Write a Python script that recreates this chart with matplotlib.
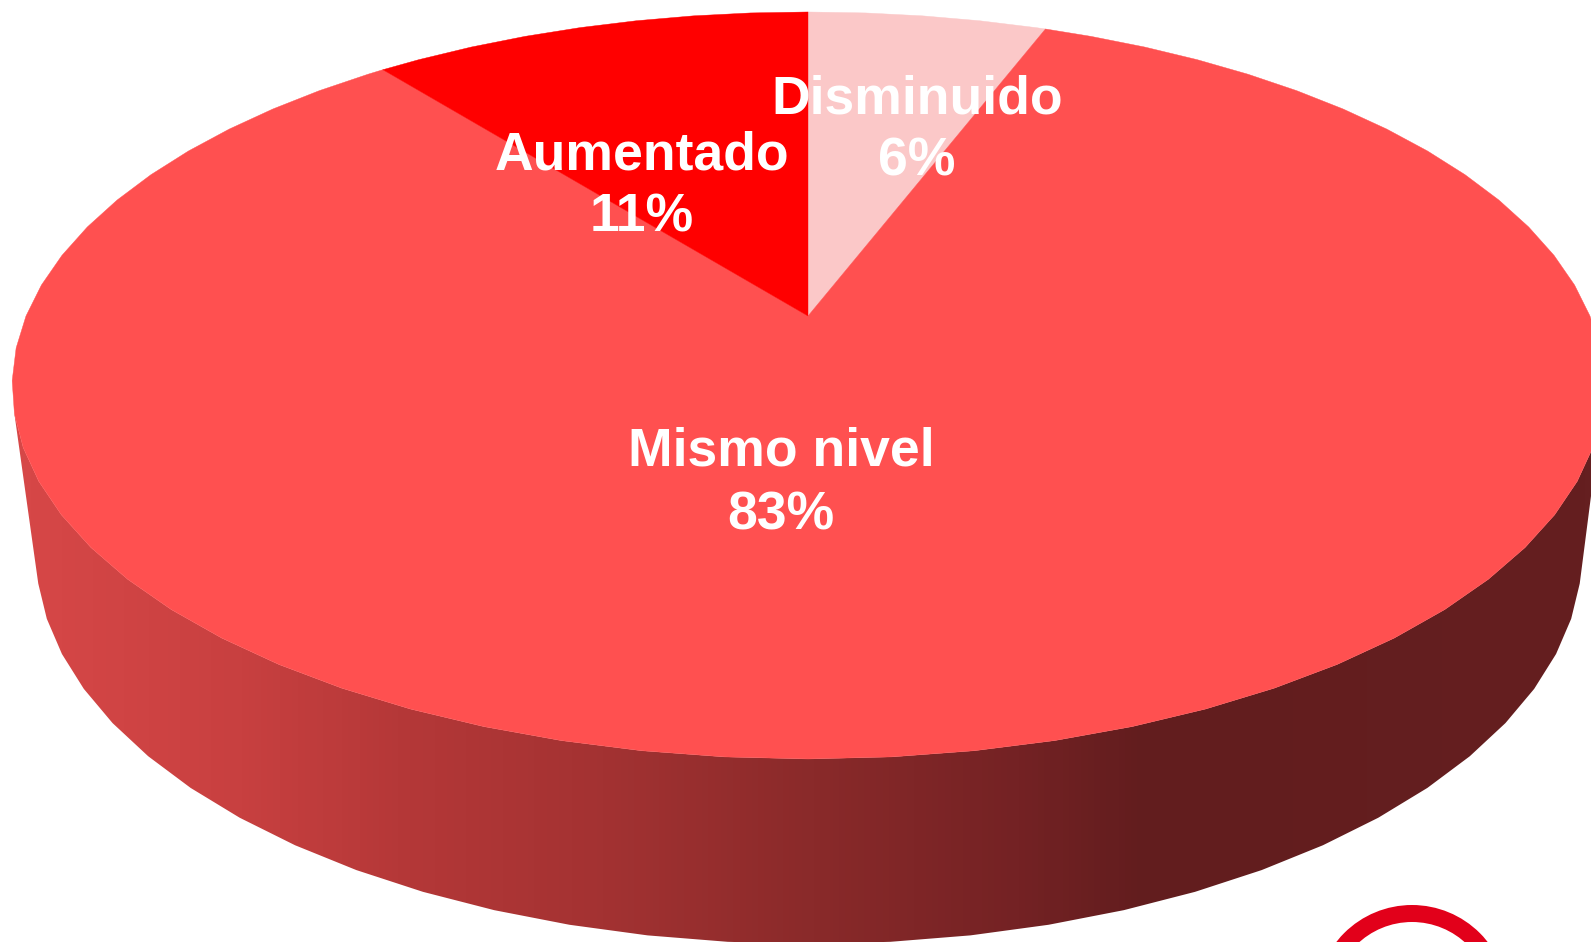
import numpy as np
import matplotlib
matplotlib.use('Agg')
import matplotlib.pyplot as plt
from matplotlib.colors import LinearSegmentedColormap
from matplotlib.patches import Polygon, Wedge

# slices clockwise from the top of the pie
nombres = ['Disminuido', 'Mismo nivel', 'Aumentado']
valores = [5.8, 83.5, 10.7]
etiquetas = ['6%', '83%', '11%']
colores = ['#FBC8C8', '#FF5050', '#FF0000']

# label positions in pixels (x centre, baseline name, baseline percent)
pos_x = [917, 781, 642]
pos_nombre = [114, 466, 170]
pos_pct = [176, 529, 232]

plt.rcParams['font.family'] = ['Liberation Sans']

W, H = 1591, 942
fig = plt.figure(figsize=(W / 100, H / 100), dpi=100)
ax = fig.add_axes([0, 0, 1, 1])
ax.set_xlim(0, W)
ax.set_ylim(H, 0)
ax.axis('off')


# perspective view of a circle, angle in degrees clockwise from the back
def disco(ang, cx, r, a, b, c=0.186):
    t = np.radians(ang)
    d = 1 + c * np.cos(t)
    return cx + r * np.sin(t) / d, (a + b * np.cos(t)) / d


def borde_sup(ang):
    return disco(ang, 808, 782, 316, -301.8)


def borde_inf(ang):
    return disco(ang, 809, 759.5, 481.2, -287.2)


# side wall: lower rim, front half, then back along the upper rim
ang_inf = np.arange(105, 260, 5)
ang_sup = np.arange(255, 100, -5)
xi, yi = borde_inf(ang_inf)
xs, ys = borde_sup(ang_sup)
pared = np.column_stack([np.r_[xi, xs], np.r_[yi, ys]])
cmap = LinearSegmentedColormap.from_list('pared', [
    (0.0, '#D84848'), (0.15, '#C84040'), (0.25, '#B53838'), (0.38, '#A33232'),
    (0.51, '#8A2A2A'), (0.64, '#742224'), (0.72, '#621D1E'), (1.0, '#651F20')])
grad = np.linspace(0, 1, 512).reshape(1, -1)
img = ax.imshow(grad, cmap=cmap, extent=[0, W, H, 0], aspect='auto', zorder=1)
parche = Polygon(pared, closed=True, transform=ax.transData, fc='none', ec='none')
ax.add_patch(parche)
img.set_clip_path(parche)
ax.set_xlim(0, W)
ax.set_ylim(H, 0)

# top face
ini = 0
for v, col in zip(valores, colores):
    fin = ini + v * 3.6
    medios = np.arange(np.ceil(ini / 5) * 5, fin, 5)
    ang = np.r_[ini, medios, fin]
    x, y = borde_sup(ang)
    pts = np.column_stack([np.r_[808, x], np.r_[316, y]])
    ax.add_patch(Polygon(pts, closed=True, fc=col, ec=col, lw=0.3, zorder=2))
    ini = fin

for n, e, px, pn, pp in zip(nombres, etiquetas, pos_x, pos_nombre, pos_pct):
    ax.text(px, pn, n, color='white', fontsize=38.5, fontweight='bold',
            ha='center', va='baseline', zorder=3)
    ax.text(px, pp, e, color='white', fontsize=38.5, fontweight='bold',
            ha='center', va='baseline', zorder=3)

# piece of the logo at the bottom right
ax.add_patch(Wedge((1412, 1001), 96, 180, 360, width=17, fc='#E2001A', ec='none', zorder=2))

fig.savefig('out.png', dpi=100, facecolor='white')
